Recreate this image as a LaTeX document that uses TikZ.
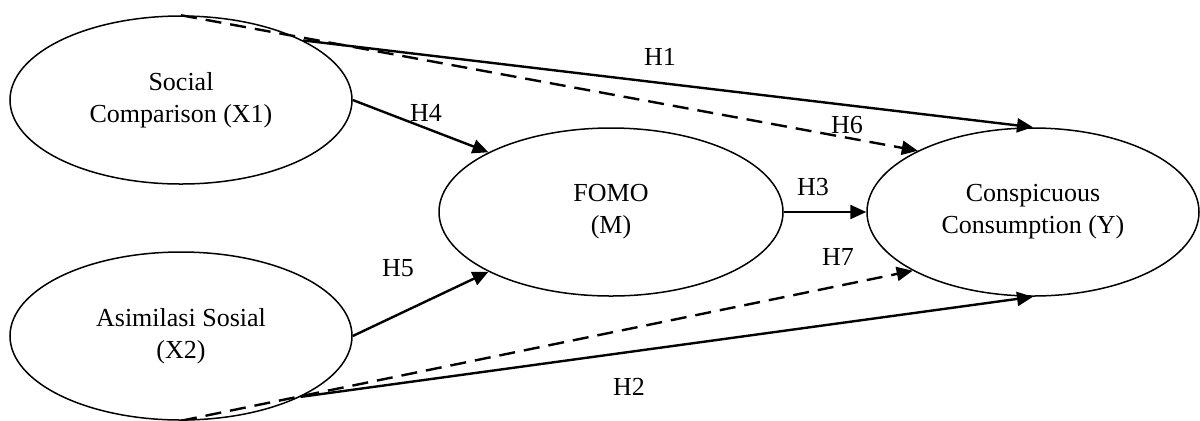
\documentclass[tikz,border=0pt]{standalone}
\usepackage{fontspec}
\setmainfont{Liberation Serif}
\usetikzlibrary{shapes.geometric,arrows.meta}
\begin{document}
\begin{tikzpicture}[x=0.5pt,y=-0.5pt,
  var/.style={draw,ellipse,line width=0.75pt,inner sep=0pt,align=center,
    font=\fontsize{13}{16}\selectfont},
  arr/.style={line width=1.2pt,-{Triangle[length=8pt,width=7pt]}},
  darr/.style={arr,dash pattern=on 8pt off 4.5pt},
  lab/.style={font=\fontsize{13}{16}\selectfont,inner sep=0pt}]
\useasboundingbox (0,0) rectangle (1200,420);
\node[var,minimum width=171pt,minimum height=84pt] (X1) at (181,100) {Social\\Comparison (X1)};
\node[var,minimum width=171pt,minimum height=84pt] (X2) at (181,336) {Asimilasi Sosial\\(X2)};
\node[var,minimum width=172pt,minimum height=84pt] (M) at (611,212) {FOMO\\(M)};
\node[var,minimum width=166pt,minimum height=84pt] (Y) at (1033,212) {Conspicuous\\Consumption (Y)};
\draw[arr] (X1.26.4) -- (Y.north);
\draw[darr] (X1.north) -- (Y.152.4);
\draw[arr] (X1.east) -- (M.154.4);
\draw[arr] (X2.east) -- (M.206.4);
\draw[arr] (M.east) -- (Y.west);
\draw[darr] (X2.south) -- (Y.206.8);
\draw[arr] (X2.333.3) -- (Y.south);
\node[lab] (h1) at (660,57) {H1};
\node[lab] (h2) at (629,387) {H2};
\node[lab] (h3) at (813,187) {H3};
\node[lab] (h4) at (426,113) {H4};
\node[lab] (h5) at (398,268) {H5};
\node[lab] (h6) at (847,125) {H6};
\node[lab] (h7) at (838,257) {H7};
\end{tikzpicture}
\end{document}
